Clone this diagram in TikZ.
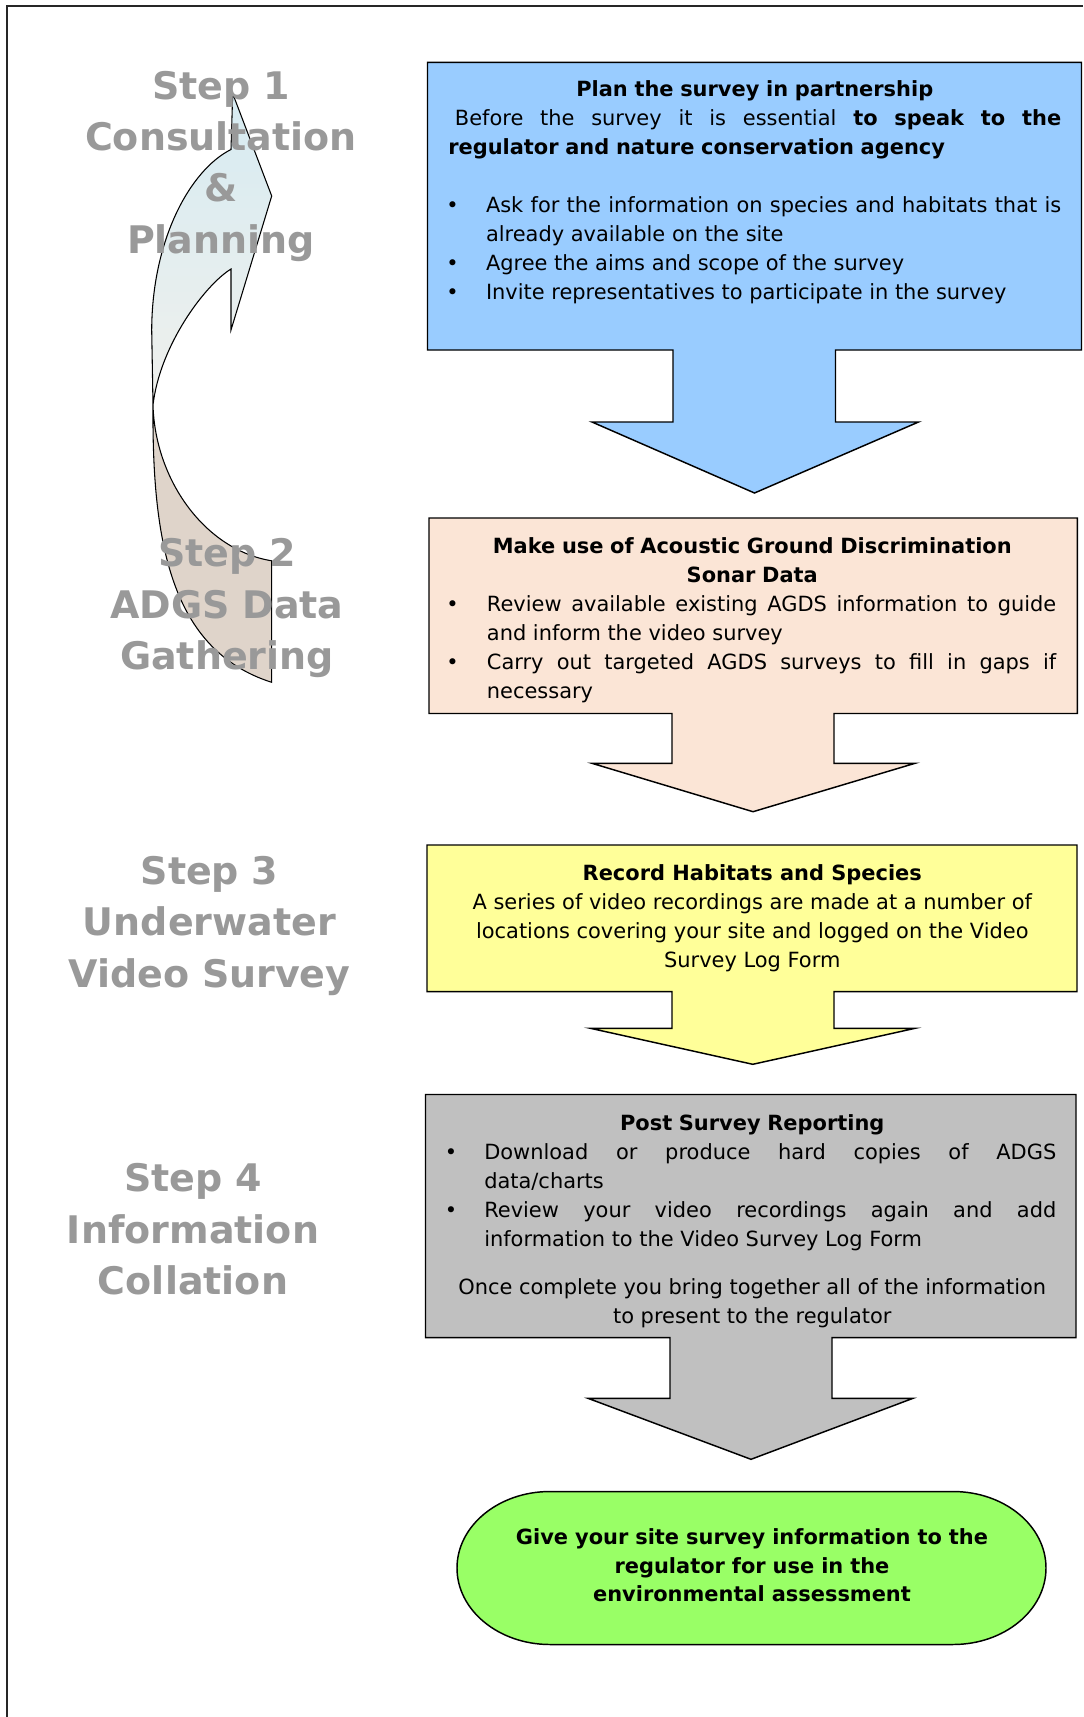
\documentclass[tikz,border=0pt]{standalone}
\usepackage{fontspec}
\setmainfont{DejaVu Sans}
\definecolor{blueF}{HTML}{99CCFF}
\definecolor{peachF}{HTML}{FBE5D6}
\definecolor{yellowF}{HTML}{FFFF99}
\definecolor{grayF}{HTML}{C0C0C0}
\definecolor{greenF}{HTML}{99FF66}
\definecolor{stepC}{HTML}{999999}
\definecolor{arrTop}{HTML}{D6EBF2}
\definecolor{arrMid}{HTML}{F0F0EC}
\definecolor{arrTan}{HTML}{DFD4CA}
\newlength{\itemind}\newlength{\bulind}
\newcommand{\justi}{\leftskip=0pt\rightskip=0pt\parfillskip=0pt plus 1fil\spaceskip=0.318em plus 1em minus 0.08em\xspaceskip=\spaceskip\relax}
\newcommand{\bitem}[1]{\par\hangindent=\itemind\hangafter=1\noindent\makebox[\itemind][l]{\hspace{\bulind}\textbullet}#1\par}
\hyphenpenalty=10000
\exhyphenpenalty=10000
\tolerance=10000
\tikzset{
  frameline/.style={draw=black!85, line width=1.1pt},
  arrline/.style={draw=black, line width=0.8pt, line join=miter},
  callout/.style={draw=black, line width=1.1pt, line join=miter},
  body/.style={inner sep=0pt, anchor=base west, align=justify, font=\fontsize{15.7}{21.75}\selectfont},
  steplabel/.style={inner sep=0pt, anchor=base, text width=240pt, align=center,
    font=\fontsize{28.5}{38.6}\selectfont\bfseries, text=stepC},
  greentext/.style={inner sep=0pt, anchor=base, text width=405pt, align=center,
    font=\fontsize{15.7}{21.4}\selectfont\bfseries}
}
\begin{document}
\begin{tikzpicture}[x=0.75pt,y=-0.75pt]
\useasboundingbox (0,0) rectangle (1083,1717);
% page frame
\draw[frameline] (7,1717) -- (7,6) -- (1083,6);

% curved arrow (front face, gradient)
\path[top color=arrTop, bottom color=arrMid]
  (153,405) -- (151.7,330) .. controls (152,240) and (190,170) .. (231,149.5)
  -- (232.7,93.5) -- (271.7,196) -- (231,330) -- (231,269)
  .. controls (205,285) and (160,345) .. (153,405) -- cycle;
% curved arrow (back face)
\path[fill=arrTan]
  (153,405) .. controls (152,540) and (170,650) .. (271.7,682.3)
  -- (271.7,560.8) .. controls (205,550) and (155,480) .. (153,405) -- cycle;
\draw[arrline]
  (271.7,682.3) .. controls (170,650) and (152,540) .. (153,405)
  -- (151.7,330) .. controls (152,240) and (190,170) .. (231,149.5)
  -- (232.7,93.5) -- (271.7,196) -- (231,330) -- (231,269)
  .. controls (205,285) and (160,345) .. (153,405)
  .. controls (155,480) and (205,550) .. (271.7,560.8) -- cycle;

% step labels
\node[steplabel] (s1) at (221,99) {Step 1\\Consultation\\\&\\Planning};
\node[steplabel] (s2) at (227,566.6) {Step 2\\ADGS Data\\Gathering};
\node[steplabel] (s3) at (209.5,884.5) {Step 3\\Underwater\\Video Survey};
\node[steplabel] (s4) at (193,1191.7) {Step 4\\Information\\Collation};

% callout boxes with down arrows
\draw[callout, fill=blueF] (427.5,62.3) -- (1081.5,62.3) -- (1081.5,350) -- (835.5,350)
  -- (835.5,422) -- (918.5,422) -- (754.5,493) -- (592,422) -- (673,422)
  -- (673,350) -- (427.5,350) -- cycle;
\draw[callout, fill=peachF] (429,518) -- (1077.3,518) -- (1077.3,713.5) -- (834,713.5)
  -- (834,763.3) -- (915,763.3) -- (753,811.7) -- (592,763.3) -- (672,763.3)
  -- (672,713.5) -- (429,713.5) -- cycle;
\draw[callout, fill=yellowF] (427,845) -- (1077,845) -- (1077,991.7) -- (834,991.7)
  -- (834,1028.3) -- (915,1028.3) -- (752.8,1064.3) -- (590.5,1028.3) -- (672,1028.3)
  -- (672,991.7) -- (427,991.7) -- cycle;
\draw[callout, fill=grayF] (425.5,1094.5) -- (1076,1094.5) -- (1076,1337.5) -- (832,1337.5)
  -- (832,1398.3) -- (913,1398.3) -- (751,1459.3) -- (588,1398.3) -- (670,1398.3)
  -- (670,1337.5) -- (425.5,1337.5) -- cycle;
% terminal
\draw[callout, fill=greenF] (550,1491.5) -- (953,1491.5)
  arc[start angle=90, end angle=-90, x radius=69.75pt, y radius=57.375pt]
  -- (550,1644.5)
  arc[start angle=270, end angle=90, x radius=69.75pt, y radius=57.375pt] -- cycle;

% texts
\node[body, text width=459.75pt] (t1) at (448,96.7) {%
  \justi\setlength{\itemind}{28.3pt}\setlength{\bulind}{-1.5pt}%
  {\centering\bfseries Plan the survey in partnership\par}
  \hspace*{5pt}Before the survey it is essential \textbf{to speak to the}\linebreak
  \textbf{regulator and nature conservation agency}\par
  \mbox{}\par
  \bitem{Ask for the information on species and habitats that is\linebreak already available on the site}
  \bitem{Agree the aims and scope of the survey}
  \bitem{Invite representatives to participate in the survey}};

\node[body, text width=456pt] (t2) at (448,553.5) {%
  \justi\setlength{\itemind}{29pt}\setlength{\bulind}{-1.5pt}%
  {\centering\bfseries Make use of Acoustic Ground Discrimination\\Sonar Data\par}
  \bitem{Review available existing AGDS information to guide\linebreak and inform the video survey}
  \bitem{Carry out targeted AGDS surveys to fill in gaps if\linebreak necessary}};

\node[body, text width=456pt] (t3) at (448,880.5) {%
  {\centering\textbf{Record Habitats and Species}\\
  A series of video recordings are made at a number of\\
  locations covering your site and logged on the Video\\
  Survey Log Form\par}};

\node[body, text width=456pt] (t4) at (448,1130.5) {%
  \justi\setlength{\itemind}{27pt}\setlength{\bulind}{-2.6pt}%
  {\centering\bfseries Post Survey Reporting\par}
  \bitem{Download or produce hard copies of ADGS\linebreak data/charts}
  \bitem{Review your video recordings again and add\linebreak information to the Video Survey Log Form}
  \vspace{14pt}
  {\centering Once complete you bring together all of the information\\
  to present to the regulator\par}};

\node[greentext] (t5) at (752,1544.5) {Give your site survey information to the\\regulator for use in the\\environmental assessment};
\end{tikzpicture}
\end{document}
